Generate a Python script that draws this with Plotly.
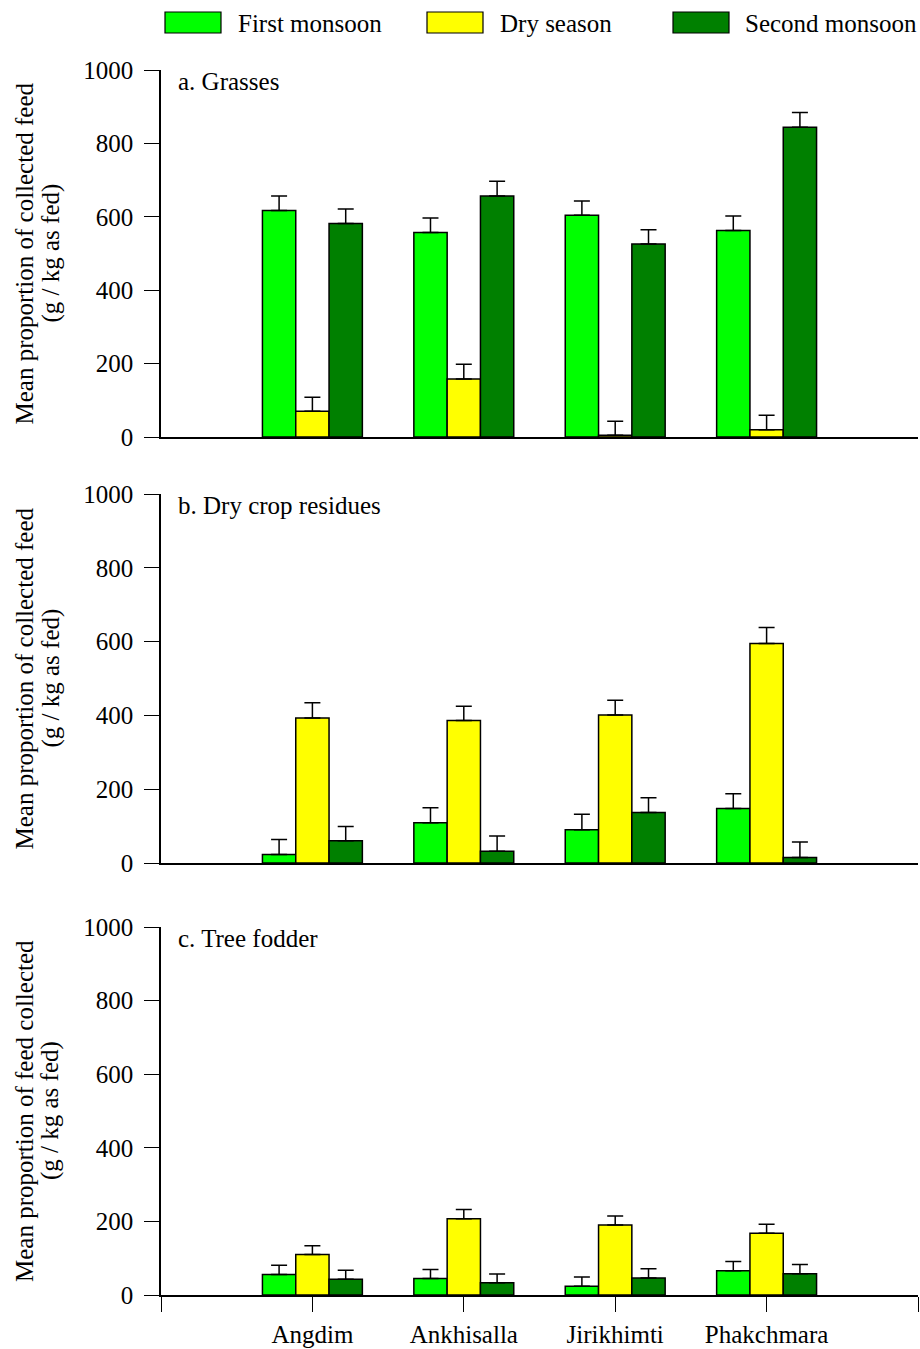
import plotly.graph_objects as go
from plotly.subplots import make_subplots

villages = ["Angdim", "Ankhisalla", "Jirikhimti", "Phakchmara"]
seasons = ["First monsoon", "Dry season", "Second monsoon"]
colors = ["#00FF00", "#FFFF00", "#008000"]

# panel a: grasses
grass_first = [617, 557, 604, 563]
grass_dry = [70, 158, 5, 20]
grass_second = [582, 657, 526, 844]
grass_err_first = [40, 40, 39, 39]
grass_err_dry = [38, 40, 38, 39]
grass_err_second = [39, 40, 39, 40]

# panel b: dry crop residues
res_first = [23, 109, 90, 148]
res_dry = [393, 386, 401, 595]
res_second = [60, 32, 137, 15]
res_err_first = [41, 41, 42, 40]
res_err_dry = [41, 39, 40, 43]
res_err_second = [39, 41, 40, 42]

# panel c: tree fodder
tree_first = [56, 45, 24, 66]
tree_dry = [110, 207, 190, 168]
tree_second = [43, 33, 46, 58]
tree_err_first = [25, 24, 25, 25]
tree_err_dry = [24, 25, 25, 24]
tree_err_second = [24, 24, 25, 25]

panel_titles = ["a. Grasses", "b. Dry crop residues", "c. Tree fodder"]
ytitles = [["Mean proportion of collected feed", "(g / kg as fed)"],
           ["Mean proportion of collected feed", "(g / kg as fed)"],
           ["Mean proportion of feed collected", "(g / kg as fed)"]]
yticks = [0, 200, 400, 600, 800, 1000]

panels = [
    ([grass_first, grass_dry, grass_second], [grass_err_first, grass_err_dry, grass_err_second]),
    ([res_first, res_dry, res_second], [res_err_first, res_err_dry, res_err_second]),
    ([tree_first, tree_dry, tree_second], [tree_err_first, tree_err_dry, tree_err_second]),
]

W, H = 920, 1349
L, R = 161, 2
PW = W - L - R
FONT = "Liberation Serif"

def px(xp):
    return (xp - L) / PW

def py(yp):
    return 1 - yp / H

# panel pixel extents (top, bottom)
extents = [(70, 437), (494, 863), (927, 1295)]

fig = make_subplots(rows=3, cols=1)
xpos = [1, 2, 3, 4]

for r, (vals, errs) in enumerate(panels, start=1):
    for s in range(3):
        fig.add_trace(go.Bar(
            x=xpos, y=vals[s], name=seasons[s],
            marker=dict(color=colors[s], line=dict(color="black", width=1.5)),
            error_y=dict(type="data", symmetric=False, array=errs[s],
                         arrayminus=[0] * 4, color="black", thickness=1.5, width=8),
            showlegend=False,
        ), row=r, col=1)

fig.update_layout(
    width=W, height=H,
    margin=dict(l=L, r=R, t=0, b=0, autoexpand=False),
    barmode="group", bargap=0.34, bargroupgap=0,
    plot_bgcolor="white", paper_bgcolor="white",
    font=dict(family=FONT, size=25, color="black"),
)

for i, (top, bot) in enumerate(extents):
    r = i + 1
    xa = "xaxis" if r == 1 else f"xaxis{r}"
    ya = "yaxis" if r == 1 else f"yaxis{r}"
    last = (r == 3)
    fig.layout[xa].update(
        domain=[0, 1], range=[0, 5], automargin=False,
        showline=True, linecolor="black", linewidth=1.5,
        showgrid=False, zeroline=False,
        tickvals=[0, 1, 2, 3, 4, 5] if last else [],
        ticktext=[""] + villages + [""] if last else [],
        ticks="outside" if last else "", ticklen=15, tickwidth=1.2, tickcolor="black",
        showticklabels=last, ticklabelstandoff=1,
        tickfont=dict(family=FONT, size=25),
    )
    fig.layout[ya].update(
        domain=[py(bot), py(top)], range=[0, 1000], automargin=False,
        tickvals=yticks, ticks="outside", ticklen=15, tickwidth=1.2, tickcolor="black",
        showline=True, linecolor="black", linewidth=1.5,
        showgrid=False, zeroline=False, ticklabelstandoff=6,
        tickfont=dict(family=FONT, size=25),
    )
    # panel label
    fig.add_annotation(x=px(176), y=py(top + 11), xref="paper", yref="paper",
                       text=panel_titles[i], showarrow=False, xanchor="left", yanchor="middle",
                       font=dict(family=FONT, size=25))
    # y titles (two lines)
    ymid = py((top + bot) / 2)
    for j, xc in enumerate([24, 50]):
        fig.add_annotation(x=px(xc), y=ymid, xref="paper", yref="paper",
                           text=ytitles[i][j], showarrow=False, textangle=-90,
                           xanchor="center", yanchor="middle",
                           font=dict(family=FONT, size=25))

# legend (manual)
leg_sw = [(165, 236), (427, 498), (673, 743)]
for s, (sx, tx) in enumerate(leg_sw):
    fig.add_shape(type="rect", xref="paper", yref="paper",
                  x0=px(sx), x1=px(sx + 56), y0=py(33), y1=py(12),
                  fillcolor=colors[s], line=dict(color="black", width=1.2))
    fig.add_annotation(x=px(tx), y=py(23), xref="paper", yref="paper",
                       text=seasons[s], showarrow=False, xanchor="left", yanchor="middle",
                       font=dict(family=FONT, size=25))

fig.write_html("out.html")
